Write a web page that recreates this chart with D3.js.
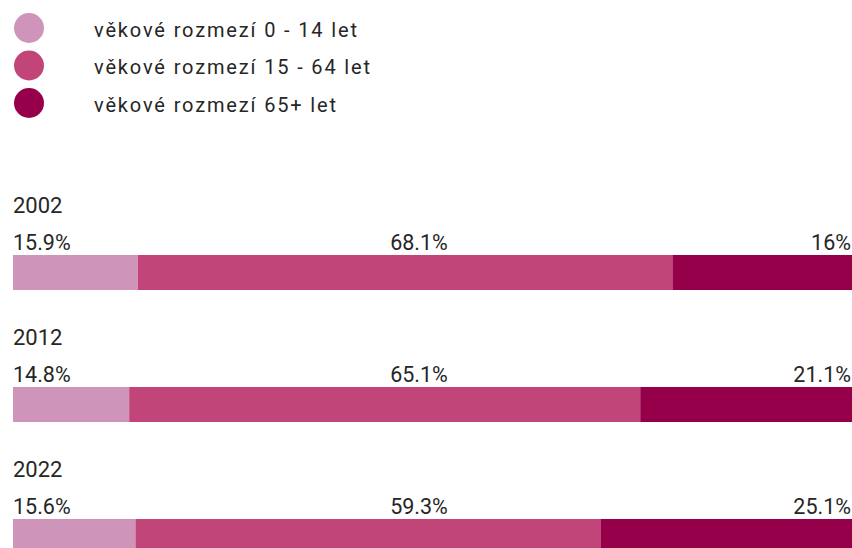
<!DOCTYPE html>
<html>
<head>
<meta charset="utf-8">
<script src="https://cdn.jsdelivr.net/npm/d3@7/dist/d3.min.js"></script>
<style>
  html, body { margin: 0; padding: 0; background: #fff; }
  svg { display: block; }
  text { font-family: Roboto, "DejaVu Sans", sans-serif; fill: #262626; }
</style>
</head>
<body>
<svg id="chart" width="852" height="548"></svg>
<script>
const years = ["2002", "2012", "2022"];
const seriesNames = ["věkové rozmezí 0 - 14 let", "věkové rozmezí 15 - 64 let", "věkové rozmezí 65+ let"];
const young = [15.9, 14.8, 15.6];
const working = [68.1, 65.1, 59.3];
const senior = [16, 21.1, 25.1];
const colors = ["#cf94b9", "#c2457a", "#96004a"];

const W = 852, H = 548;
const left = 13, right = 852, scaleEnd = 798;
const firstBarTop = 255, rowStep = 132, barH = 35;
const midLabelX = 419;

const svg = d3.select("#chart");

// Legend
const legend = svg.append("g");
const legendRow = d3.scalePoint().domain(seriesNames).range([28, 103]);
seriesNames.forEach((name, i) => {
  const g = legend.append("g").attr("transform", `translate(0,${legendRow(name)})`);
  g.append("circle").attr("cx", 29).attr("cy", 0).attr("r", 15).attr("fill", colors[i]);
  g.append("text").attr("x", 94).attr("y", 8.5)
    .style("font-size", "20px").style("letter-spacing", "1.85px")
    .text(name);
});

// Bars
const x = d3.scaleLinear().domain([0, 100]).range([left, scaleEnd]);
const y = d3.scalePoint().domain(years).range([firstBarTop, firstBarTop + rowStep * (years.length - 1)]);

const data = years.map((yr, i) => ({ year: yr, values: [young[i], working[i], senior[i]] }));

svg.append("defs").append("clipPath").attr("id", "clip")
  .append("rect").attr("x", left).attr("y", 0).attr("width", right - left).attr("height", H);

data.forEach(d => {
  const top = y(d.year);
  const g = svg.append("g");
  g.append("text").attr("x", left).attr("y", top - 42)
    .style("font-size", "22px").text(d.year);

  let cum = 0;
  const segs = d.values.map((v, j) => { const s = { v, j, x0: cum, x1: cum + v }; cum += v; return s; });
  g.append("g").attr("clip-path", "url(#clip)")
    .selectAll("rect").data(segs).join("rect")
    .attr("x", s => x(s.x0))
    .attr("y", top)
    .attr("width", s => (s.j === segs.length - 1 ? Math.max(x(s.x1), right) : x(s.x1)) - x(s.x0))
    .attr("height", barH)
    .attr("fill", s => colors[s.j]);

  const fmt = v => v + "%";
  g.append("text").attr("x", left).attr("y", top - 5).attr("text-anchor", "start")
    .style("font-size", "21.5px").text(fmt(d.values[0]));
  g.append("text").attr("x", midLabelX).attr("y", top - 5).attr("text-anchor", "middle")
    .style("font-size", "21.5px").text(fmt(d.values[1]));
  g.append("text").attr("x", right - 1).attr("y", top - 5).attr("text-anchor", "end")
    .style("font-size", "21.5px").text(fmt(d.values[2]));
});
</script>
</body>
</html>
